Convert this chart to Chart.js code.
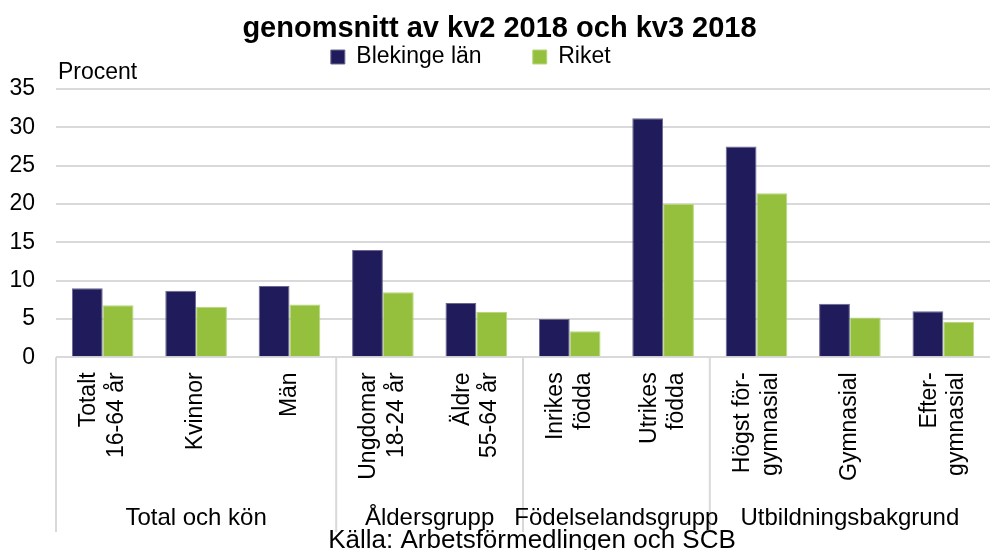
<!DOCTYPE html>
<html>
<head>
<meta charset="utf-8">
<script src="https://cdn.jsdelivr.net/npm/chart.js@4"></script>
<style>
  html, body { margin: 0; padding: 0; background: #fff; }
</style>
</head>
<body>
<canvas id="myChart" width="993" height="550"></canvas>
<script>
// categories (multi line labels as arrays)
const categories = [
  ['Totalt', '16-64 år'], 'Kvinnor', 'Män',
  ['Ungdomar', '18-24 år'], ['Äldre', '55-64 år'],
  ['Inrikes', 'födda'], ['Utrikes', 'födda'],
  ['Högst för-', 'gymnasial'], 'Gymnasial', ['Efter-', 'gymnasial']
]
const groups = ['Total och kön', 'Åldersgrupp', 'Födelselandsgrupp', 'Utbildningsbakgrund']
const groupSizes = [3, 2, 2, 3]
const seriesNames = ['Blekinge län', 'Riket']
const blekinge = [9.0, 8.7, 9.3, 14.0, 7.1, 5.0, 31.2, 27.5, 7.0, 6.0]
const riket = [6.8, 6.6, 6.9, 8.5, 5.9, 3.4, 20.0, 21.4, 5.2, 4.6]
const yTicks = [0, 5, 10, 15, 20, 25, 30, 35]

const FONT = '"Liberation Sans", Arial, sans-serif'
Chart.defaults.font.family = FONT
Chart.defaults.color = '#000'

// centre two-line category labels as a block on their tick
const labelShift = {
  id: 'labelShift',
  beforeDraw(chart) {
    chart.scales.x.getLabelItems().forEach(it => {
      if (Array.isArray(it.label) && !it._shifted) {
        it.options.translation[0] -= (it.label.length - 1) * it.font.lineHeight / 2
        it._shifted = true
      }
    })
  }
}

// unit label, group labels under the categories, separators and source line
const groupPlugin = {
  id: 'groupPlugin',
  afterDraw(chart) {
    const ctx = chart.ctx
    const x = chart.scales.x
    const area = chart.chartArea
    ctx.save()
    ctx.strokeStyle = '#d9d9d9'
    ctx.lineWidth = 2
    let idx = 0
    const lefts = []
    for (let g = 0; g < groups.length; g++) {
      const left = idx === 0 ? area.left : (x.getPixelForValue(idx - 1) + x.getPixelForValue(idx)) / 2
      lefts.push(left)
      idx += groupSizes[g]
    }
    lefts.push(area.right)
    ctx.beginPath()
    for (let g = 0; g < groups.length; g++) {
      ctx.moveTo(lefts[g], area.bottom)
      ctx.lineTo(lefts[g], 532)
    }
    ctx.stroke()
    ctx.fillStyle = '#000'
    ctx.textBaseline = 'middle'
    ctx.font = '23px ' + FONT
    ctx.textAlign = 'left'
    ctx.fillText('Procent', area.left + 2, 73)
    ctx.font = '24px ' + FONT
    ctx.textAlign = 'center'
    for (let g = 0; g < groups.length; g++) {
      ctx.fillText(groups[g], (lefts[g] + lefts[g + 1]) / 2, 518)
    }
    ctx.font = '26px ' + FONT
    ctx.fillText('Källa: Arbetsförmedlingen och SCB', 532, 541)
    ctx.restore()
  }
}

const data = {
  labels: categories,
  datasets: [{
    label: seriesNames[0],
    data: blekinge,
    backgroundColor: '#201c5b',
    borderColor: '#6b6890',
    borderWidth: 1
  }, {
    label: seriesNames[1],
    data: riket,
    backgroundColor: '#95c03d',
    borderColor: '#b9d67f',
    borderWidth: 1
  }]
}

const config = {
  type: 'bar',
  data: data,
  options: {
    responsive: false,
    animation: false,
    layout: { padding: { left: 9, right: 3, top: 0, bottom: 54 } },
    datasets: { bar: { categoryPercentage: 0.66, barPercentage: 1 } },
    plugins: {
      title: {
        display: true,
        text: 'genomsnitt av kv2 2018 och kv3 2018',
        font: { size: 29, weight: 'bold', lineHeight: 1 },
        color: '#000',
        padding: { top: 14.5, bottom: 2 }
      },
      legend: {
        display: true,
        labels: {
          boxWidth: 14, boxHeight: 14, padding: 0,
          font: { size: 23 }, color: '#000',
          // extra spacing between the two entries, as in the original legend
          generateLabels: chart => Chart.defaults.plugins.legend.labels.generateLabels(chart).map((l, i) => {
            l.text = i === 0 ? l.text + '        ' : l.text + '         '
            return l
          })
        }
      },
      tooltip: { enabled: false }
    },
    scales: {
      x: {
        grid: { display: false, drawTicks: false },
        border: { display: false },
        afterFit: s => { s.paddingLeft = 0; s.paddingRight = 0 },
        ticks: {
          autoSkip: false, maxRotation: 90, minRotation: 90, padding: 15,
          font: { size: 23 }, color: '#000'
        }
      },
      y: {
        // a little headroom above 35 for the "Procent" label
        min: 0, max: 36.37,
        afterBuildTicks: s => { s.ticks = yTicks.map(v => ({ value: v })) },
        afterFit: s => { s.width = 47 },
        grid: { color: '#d9d9d9', lineWidth: 2, drawTicks: false },
        border: { display: false },
        ticks: { padding: 21, font: { size: 23 }, color: '#000' }
      }
    }
  },
  plugins: [labelShift, groupPlugin]
}

const myChart = new Chart(document.getElementById('myChart'), config)
</script>
</body>
</html>
